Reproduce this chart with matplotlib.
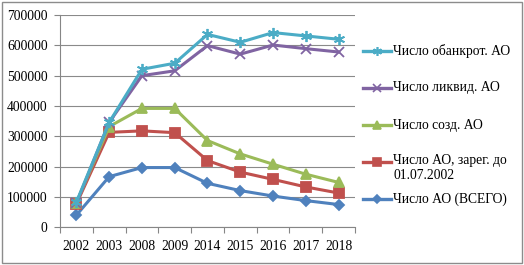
import matplotlib
matplotlib.use("Agg")
import matplotlib.pyplot as plt
from matplotlib.lines import Line2D
from matplotlib.patches import Rectangle
import numpy as np

years = ["2002", "2003", "2008", "2009", "2014", "2015", "2016", "2017", "2018"]
bankrupt = [83000, 346000, 521000, 541000, 636000, 610000, 642000, 631000, 620000]
liquid = [79000, 346000, 500000, 516000, 599000, 571000, 601000, 589000, 578000]
created = [81000, 332000, 392000, 392000, 286000, 242000, 208000, 175000, 148000]
registered = [77000, 313000, 318000, 312000, 220000, 182000, 158000, 133000, 113000]
total = [40000, 167000, 197000, 197000, 145000, 121000, 103000, 88000, 75000]

labels = ["Число обанкрот. АО", "Число ликвид. АО", "Число созд. АО",
          "Число АО, зарег. до\n01.07.2002", "Число АО (ВСЕГО)"]
colors = ["#4BACC6", "#8064A2", "#9BBB59", "#C0504D", "#4F81BD"]
markers = [(6, 2, 0), "x", "^", "s", "D"]
msizes = [8, 6.5, 7, 6.5, 5.5]
series = [bankrupt, liquid, created, registered, total]

plt.rcParams["font.family"] = ["Liberation Serif", "DejaVu Serif"]
fig = plt.figure(figsize=(5.24, 2.65), dpi=100)
W, H = 524, 265
ax = fig.add_axes([60 / W, 1 - 227.3 / H, (355 - 60) / W, (227.3 - 15) / H])

x = np.arange(len(years))
for i in reversed(range(len(series))):
    ax.plot(x, series[i], color=colors[i], lw=2.2, marker=markers[i],
            ms=msizes[i], mec=colors[i], mew=1.3, zorder=3 + (4 - i))

ax.set_xlim(-0.5, len(years) - 0.5)
ax.set_ylim(0, 700000)
ax.set_yticks(np.arange(0, 700001, 100000))
ax.set_yticklabels([str(v) for v in range(0, 700001, 100000)])
ax.set_xticks(x)
ax.set_xticklabels(years)
ax.set_xticks(np.arange(-0.5, len(years), 1.0), minor=True)
ax.tick_params(axis="x", which="major", length=0, pad=9, labelsize=9.8)
ax.tick_params(axis="x", which="minor", length=4, color="#868686", width=0.8)
ax.tick_params(axis="y", length=4, color="#868686", width=0.8, pad=5, labelsize=9.8)
ax.grid(axis="y", color="#8a8a8a", lw=0.8)
ax.set_axisbelow(True)
for s in ["top", "right"]:
    ax.spines[s].set_visible(False)
for s in ["left", "bottom"]:
    ax.spines[s].set_color("#868686")
    ax.spines[s].set_linewidth(0.8)

# legend (drawn manually so the two-line label aligns its first line with the key)
ys = [51, 87.7, 125, 161.7, 199.3]
for i in range(len(series)):
    yf = 1 - ys[i] / H
    fig.add_artist(Line2D([363 / W, 391 / W], [yf, yf], color=colors[i], lw=2.4,
                          transform=fig.transFigure))
    fig.add_artist(Line2D([377 / W], [yf], color=colors[i], marker=markers[i],
                          ms=msizes[i] * 0.8, mec=colors[i], mew=1.2,
                          transform=fig.transFigure))
    if "\n" in labels[i]:
        fig.text(393 / W, 1 - (ys[i] - 7.5) / H, labels[i], fontsize=9.8,
                 va="top", ha="left", linespacing=1.2)
    else:
        fig.text(393 / W, yf, labels[i], fontsize=9.8, va="center", ha="left")

fig.add_artist(Rectangle((1.5 / W, 2.5 / H), 520 / W, 260.5 / H, fill=False,
                         edgecolor="#8c8c8c", lw=1.0, transform=fig.transFigure))

fig.savefig("out.png", dpi=100)
